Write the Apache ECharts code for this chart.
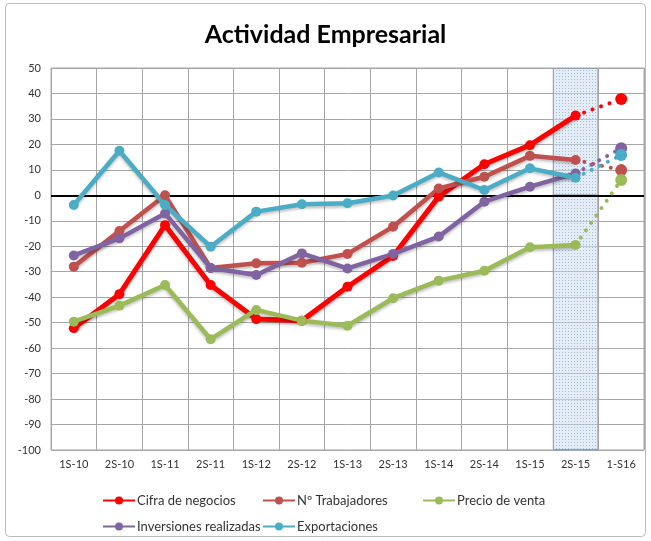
<!DOCTYPE html>
<html><head><meta charset="utf-8">
<script src="https://cdn.jsdelivr.net/npm/echarts@6/dist/echarts.min.js"></script>
<style>html,body{margin:0;padding:0;background:#fff}#c{width:651px;height:541px}</style>
</head><body><div id="c"></div>
<script>
var categories = ['1S-10','2S-10','1S-11','2S-11','1S-12','2S-12','1S-13','2S-13','1S-14','2S-14','1S-15','2S-15','1-S16'];
var cifraNegocios = [-52.2,-38.8,-11.7,-35.2,-48.6,-49.2,-35.9,-23.8,-0.5,12.2,19.7,31.3,37.8];
var trabajadores = [-28,-14,0,-28.5,-26.7,-26.5,-23,-12.3,2.7,7.3,15.5,13.9,9.9];
var precioVenta = [-49.6,-43.3,-35.2,-56.5,-45,-49.2,-51.2,-40.4,-33.5,-29.6,-20.4,-19.5,6.0];
var inversiones = [-23.6,-16.9,-7.1,-28.5,-31.3,-22.8,-28.7,-23,-16.2,-2.5,3.4,8.6,18.5];
var exportaciones = [-3.8,17.5,-3.8,-20.2,-6.4,-3.5,-3.1,-0.1,9,2.1,10.6,6.9,15.8];
var yTicks = {min:-100, max:50, interval:10};
var shadedCategory = '2S-15';

var seriesDefs = [
  {name:'Cifra de negocios', data:cifraNegocios, color:'#FF0000', w:5},
  {name:'Nº Trabajadores', data:trabajadores, color:'#C0504D', w:4.5},
  {name:'Precio de venta', data:precioVenta, color:'#9BBB59', w:4.5},
  {name:'Inversiones realizadas', data:inversiones, color:'#8064A2', w:4.5},
  {name:'Exportaciones', data:exportaciones, color:'#4BACC6', w:4.5}
];

// dotted pattern for shaded band
var pc = document.createElement('canvas'); pc.width = 3; pc.height = 3;
var pctx = pc.getContext('2d');
pctx.fillStyle = 'rgba(205,220,238,0.55)'; pctx.fillRect(0,0,3,3);
pctx.fillStyle = 'rgba(150,178,215,0.8)'; pctx.fillRect(1,1,1,1);

var FONT = 'Lato, "Open Sans", sans-serif';
var n = categories.length;
var series = [];

// shaded band built as full-height bars on the shaded category
var bandIdx = categories.indexOf(shadedCategory);
[yTicks.max, yTicks.min].forEach(function(v){
  series.push({
    type:'bar', silent:true, barWidth:'100%', barGap:'-100%', z:1,
    data: categories.map(function(c, k){ return k === bandIdx ? v : '-'; }),
    itemStyle:{color:{image:pc, repeat:'repeat'}, borderColor:'#8f9fb5', borderWidth:1}
  });
});

seriesDefs.forEach(function(d, i){
  var solid = d.data.map(function(v, k){ return k < n-1 ? v : '-'; });
  var dotted = d.data.map(function(v, k){
    if (k === n-2) return {value:v, symbol:'none'};
    if (k === n-1) return v;
    return '-';
  });
  var s = {
    name: d.name, type:'line', data: solid, symbol:'circle', symbolSize:10,
    itemStyle:{color:d.color},
    lineStyle:{color:d.color, width:d.w, shadowColor:'rgba(0,0,0,0.25)', shadowBlur:3, shadowOffsetY:2},
    z: 3
  };
  if (i === 0) {
    s.markLine = {silent:true, symbol:'none', label:{show:false},
      lineStyle:{color:'#000', width:2, type:'solid'}, data:[{yAxis:0}], z:2};
  }
  series.push(s);
  series.push({
    name: d.name + ' (prev)', type:'line', data: dotted, symbol:'circle', symbolSize:12,
    itemStyle:{color:d.color},
    lineStyle:{color:d.color, width:4, type:[0.01, 9], cap:'round'},
    z: 3
  });
});

var legendPos = [[97,489],[257,489],[417,489],[97,515],[257,515]];
var legends = seriesDefs.map(function(d, i){
  return {data:[d.name], left:legendPos[i][0], top:legendPos[i][1], itemWidth:32, itemHeight:10, itemGap:2,
    textStyle:{fontFamily:FONT, fontSize:13, color:'#333', padding:[0,0,0,-3]}};
});

var chart = echarts.init(document.getElementById('c'));
chart.setOption({
  animation:false,
  title:{text:'Actividad Empresarial', left:'center', top:17,
    textStyle:{fontFamily:FONT, fontSize:25, fontWeight:'bold', color:'#000'}},
  graphic:[{type:'rect', shape:{x:5.5,y:3.5,width:640,height:533,r:4}, style:{fill:'none', stroke:'#bbb', lineWidth:1}, silent:true}],
  legend: legends,
  grid:{left:51, right:7, top:68, bottom:91, show:true, borderColor:'#a6a6a6', borderWidth:1},
  xAxis:{type:'category', data:categories, boundaryGap:true,
    axisLine:{show:false, onZero:false}, axisTick:{show:false},
    axisLabel:{fontFamily:FONT, fontSize:11, color:'#333', margin:9},
    splitLine:{show:true, lineStyle:{color:'#a6a6a6', width:1}}},
  yAxis:{type:'value', min:yTicks.min, max:yTicks.max, interval:yTicks.interval,
    axisLine:{show:false}, axisTick:{show:false},
    axisLabel:{fontFamily:FONT, fontSize:11, color:'#333', margin:10},
    splitLine:{show:true, lineStyle:{color:'#a6a6a6', width:1}}},
  series: series
});
</script></body></html>
